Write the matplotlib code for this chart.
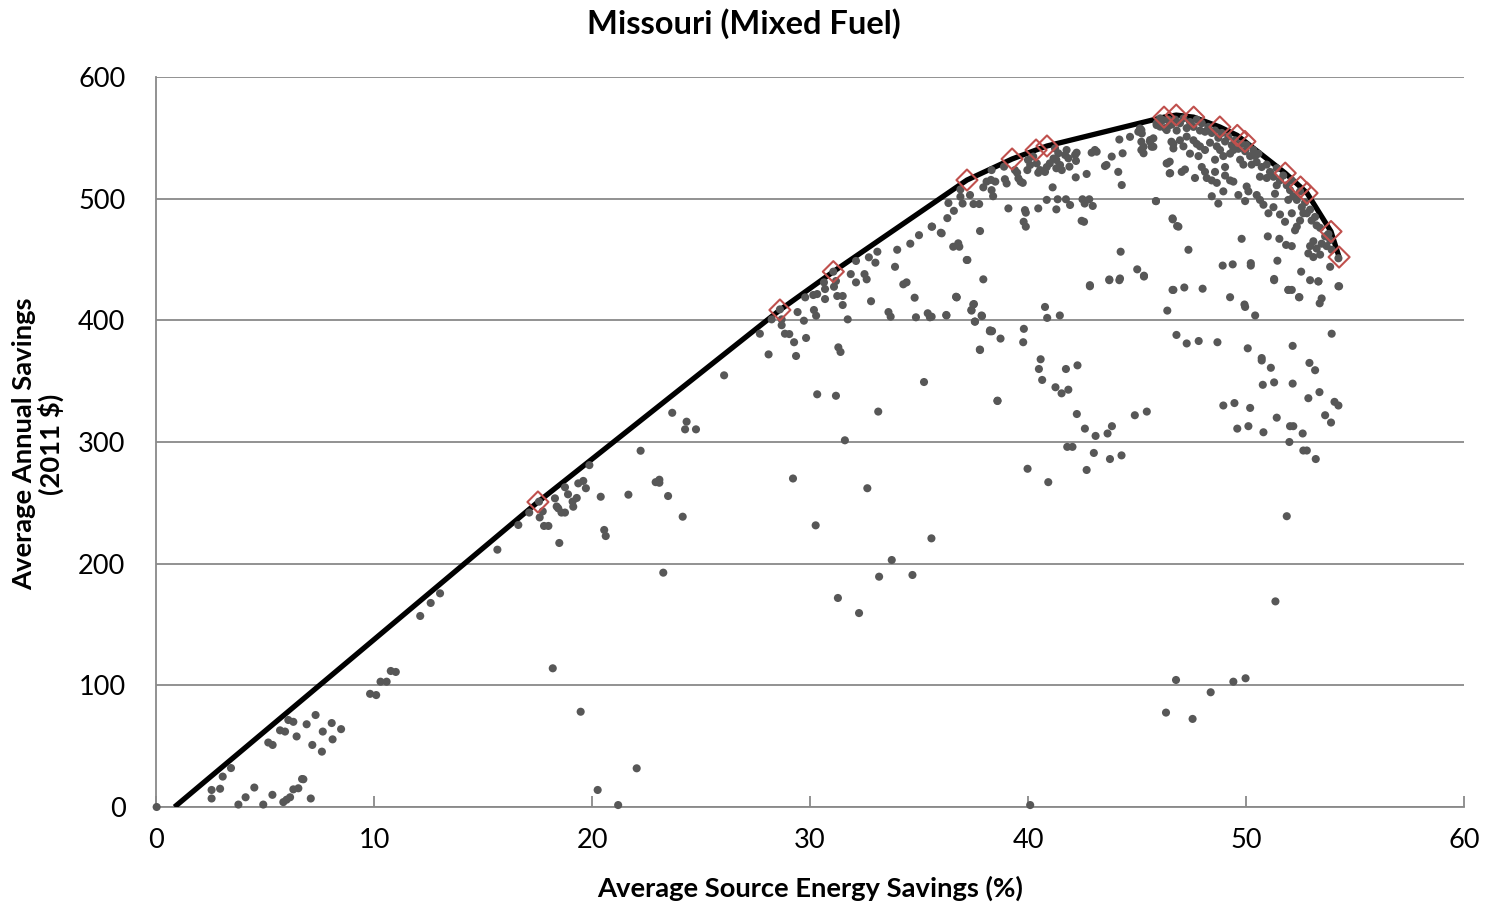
import matplotlib
matplotlib.use('Agg')
import matplotlib.pyplot as plt

plt.rcParams['font.family'] = ['Lato', 'DejaVu Sans']

# ---------------- data: (source energy savings %, annual savings $) ----------------
# frontier (least-cost curve) start and optimal packages (red diamonds)
line_start = (0.85, 0)
optimal_x = [17.52, 28.62, 31.07, 37.2, 39.27, 40.37, 40.87, 46.24, 46.8, 47.6,
             48.8, 49.6, 49.95, 51.8, 52.5, 52.8, 53.9, 54.27]
optimal_y = [250.7, 408.5, 440.0, 515.3, 532.6, 540.0, 543.3, 567.0, 568.7, 567.0,
             558.9, 552.0, 547.0, 521.0, 509.6, 504.6, 473.0, 452.0]

# individual design points, grouped by region of the chart
pts_low = [
    (0.03, 0), (2.55, 14), (2.55, 7), (2.94, 15), (3.06, 25), (3.44, 32), (3.78, 2),
    (4.11, 8), (4.51, 16), (4.92, 2), (5.34, 10), (5.15, 53), (5.35, 51), (5.69, 63),
    (5.92, 62), (6.07, 71.5), (6.3, 70), (5.84, 4), (5.99, 6), (6.15, 8), (6.3, 14.5),
    (6.53, 15.4), (6.76, 22.8), (6.7, 23), (6.45, 58), (6.91, 68), (7.32, 75.6),
    (7.1, 7), (7.17, 51), (7.61, 45.5), (7.65, 62), (8.06, 69), (8.1, 55.6), (8.49, 64),
    (9.82, 93), (10.1, 92), (10.3, 103), (10.58, 103), (10.77, 111.8), (11.0, 111),
    (12.12, 157), (12.6, 167.7), (13.03, 175.6), (15.66, 211.5),
]

pts_20 = [
    (16.62, 231.8), (17.12, 242), (17.57, 251), (17.74, 243), (17.6, 238), (17.8, 231),
    (18.0, 231), (18.3, 253.7), (18.38, 247), (18.45, 245.5), (18.6, 242), (18.76, 242),
    (18.76, 262.8), (18.9, 257), (19.14, 246.8), (19.11, 251), (19.3, 254), (19.37, 266),
    (19.6, 268), (19.72, 262), (19.88, 281), (18.5, 217), (20.4, 255), (20.56, 227.7),
    (20.63, 222.7), (21.67, 256.7), (22.23, 292.8), (22.92, 267), (23.09, 269),
    (23.09, 266.5), (23.49, 255.6), (24.16, 238.6), (23.27, 192.6), (23.68, 324),
    (24.34, 316.7), (24.27, 310.4), (24.77, 310.4), (18.2, 114), (19.48, 78.3),
    (22.05, 31.8), (20.26, 14), (21.2, 1.6), (26.06, 354.8),
]

pts_30 = [
    (27.7, 389), (28.1, 372), (28.24, 400.8), (28.7, 400.8), (28.7, 396), (28.62, 409),
    (28.85, 389), (29.05, 388.7), (29.27, 382), (29.36, 370.7), (29.43, 406.8),
    (29.72, 399.7), (29.82, 385.5), (29.78, 418.9), (30.15, 420.8), (30.33, 421.6),
    (30.18, 408.5), (30.28, 403.8), (30.69, 417.5), (30.69, 425.7), (30.64, 431.2),
    (31.07, 440), (31.19, 432.3), (31.1, 427.6), (31.25, 420), (31.5, 420), (31.5, 412.6),
    (31.73, 400.8), (31.3, 377.8), (31.4, 374), (30.33, 339.2), (31.19, 338),
    (31.87, 438), (32.11, 431.2), (32.11, 448.8), (32.5, 438), (32.6, 433.7),
    (32.7, 451.8), (33.0, 447.4), (33.09, 456.4), (32.8, 415.7), (33.9, 444),
    (34.28, 429.6), (34.43, 431.2), (33.6, 406.8), (33.7, 403), (34.8, 418.6),
    (34.86, 402.5), (35.4, 405.8), (35.5, 402.5), (36.25, 404.4), (36.73, 418.9),
    (37.19, 449.6), (37.95, 433.7), (37.52, 413.4), (37.4, 408.5), (37.89, 403.5),
    (37.57, 398.9), (38.26, 391.8), (38.35, 391.2), (37.8, 375.6), (38.6, 333.7),
    (35.23, 349.3), (33.13, 325), (31.6, 301.4), (29.22, 270), (32.63, 262),
    (30.26, 231.5), (35.57, 220.8), (33.75, 203), (33.17, 189.3), (34.7, 190.7),
    (31.28, 171.8), (32.25, 159.4),
    (34.0, 458), (34.6, 463), (35.0, 470), (35.6, 477), (36.0, 472), (36.3, 484),
    (36.6, 490), (37.0, 496),
]

pts_40 = [
    (35.58, 477), (36.04, 471.5), (36.57, 460.5), (36.8, 463.3), (36.85, 460.5),
    (37.22, 449.6), (37.8, 473.4), (36.7, 419.4), (36.35, 496.4), (36.9, 501.6),
    (36.9, 507.6), (37.34, 503), (37.5, 495.6), (37.76, 495.6), (37.95, 509.3),
    (38.1, 514), (38.3, 515.4), (38.5, 514), (38.33, 507), (38.4, 502), (38.33, 523.5),
    (38.9, 526.3), (39.02, 512.5), (38.94, 516), (39.1, 492), (39.4, 523.5),
    (39.5, 521.3), (39.56, 516.7), (39.66, 514), (39.76, 513), (39.86, 490.6),
    (39.9, 488.5), (39.8, 481), (39.9, 477), (40.0, 531.8), (40.1, 527.7),
    (39.97, 523.5), (40.24, 534.6), (40.4, 529), (40.47, 521.3), (40.55, 523.5),
    (40.47, 492), (40.86, 499), (40.78, 522), (40.86, 526), (41.0, 529), (41.17, 533),
    (41.24, 541.3), (41.3, 531.8), (41.3, 525), (41.47, 527.7), (41.55, 523.5),
    (41.39, 537.3), (41.13, 509.3), (41.3, 491.2), (41.36, 499.5), (41.7, 535.9),
    (41.77, 540), (41.85, 533.2), (41.9, 526.3), (41.74, 499.5), (41.93, 494.8),
    (42.16, 536), (42.2, 531), (42.23, 537.8), (42.19, 517.5), (42.5, 499.5),
    (42.6, 496), (42.81, 499.5), (42.97, 494), (42.46, 481.8), (42.57, 481),
    (42.69, 520.3), (42.92, 537.8), (43.07, 540), (43.15, 538.6), (43.6, 527.7),
    (43.53, 526.8), (43.84, 534.6), (44.14, 522), (44.19, 548.6), (44.3, 511.2),
    (44.34, 537.3), (44.68, 550.8), (45.06, 555), (45.14, 557.7), (45.22, 553.6),
    (45.2, 546.8), (45.3, 542.7), (45.3, 537.3), (45.6, 546.8), (45.67, 542.7),
    (45.75, 549.6), (45.87, 498), (44.25, 456.4), (45.01, 441.9), (45.32, 436.7),
    (43.73, 433.6), (44.22, 434.4), (42.84, 428.9), (46.63, 483.8), (46.84, 477.5),
    (46.63, 425), (46.5, 520.8), (46.39, 529), (46.5, 530.4), (46.58, 546.8),
    (46.67, 541.3), (45.9, 560.5), (46.06, 559.2), (46.2, 564.6), (46.36, 556.4),
    (46.5, 560.5),
]

pts_peak = [
    (45.2, 556.4), (45.2, 540), (45.6, 548.2), (45.75, 542.7),
    (45.9, 562), (46.06, 566), (46.29, 558), (46.44, 565), (46.59, 561), (46.75, 565),
    (46.82, 556), (46.97, 562), (47.13, 566), (47.28, 558), (47.43, 563), (47.59, 559),
    (47.74, 565), (47.89, 556), (47.97, 562), (48.12, 555), (48.27, 559), (48.43, 554),
    (48.58, 556), (48.73, 550), (48.89, 554), (49.04, 547), (49.19, 551), (49.35, 544),
    (49.5, 548), (49.65, 541), (49.8, 545), (49.96, 539), (50.03, 544), (50.19, 535),
    (50.34, 540), (50.49, 530), (50.72, 526), (50.95, 528), (51.1, 522), (51.26, 518),
    (51.41, 525), (51.56, 515), (51.71, 519), (51.87, 511), (52.02, 507), (52.1, 515),
    (52.17, 502), (52.33, 499), (52.48, 506), (52.56, 493), (52.71, 497), (52.79, 488),
    (52.94, 491), (53.01, 482), (53.17, 485), (53.24, 478), (53.4, 476), (53.09, 465),
    (52.94, 461), (53.24, 459), (53.47, 463), (53.63, 469), (53.78, 471), (53.7, 461),
    (53.93, 458), (52.86, 455), (53.09, 452), (53.4, 454), (53.86, 466), (54.24, 451),
    (46.36, 529), (46.52, 521), (47.05, 522), (47.2, 524), (47.43, 537), (47.66, 517),
    (47.82, 535), (47.97, 526), (48.12, 522), (48.2, 517), (48.43, 515), (48.58, 532),
    (48.58, 522), (48.66, 513), (49.04, 526), (49.04, 519), (49.27, 515), (49.42, 514),
    (48.96, 506), (48.43, 502), (48.73, 496), (49.65, 503), (49.96, 498), (50.03, 510),
    (50.11, 506), (50.49, 503), (50.64, 499), (50.8, 495), (51.03, 488), (51.26, 493),
    (51.33, 504), (51.41, 511), (51.56, 487), (51.79, 481), (51.94, 499), (52.1, 488),
    (52.33, 477), (52.25, 474), (52.48, 482), (52.63, 488), (50.57, 537), (50.42, 535),
    (50.26, 528), (50.64, 518), (50.95, 517), (49.73, 532), (49.88, 528), (49.27, 537),
    (49.42, 540), (48.81, 540), (48.35, 546), (48.66, 543), (48.96, 535), (47.59, 548),
    (47.74, 545), (47.28, 551), (46.97, 548), (46.67, 545), (47.13, 543), (47.89, 543),
    (48.12, 540),
    (45.87, 498), (46.64, 483), (46.9, 477), (47.36, 458), (48.93, 445), (49.39, 446),
    (50.22, 447), (50.22, 445), (49.8, 467), (51.0, 469), (51.53, 467), (51.84, 462),
    (52.1, 461), (51.44, 449), (51.29, 434), (52.53, 440), (52.94, 433), (53.32, 432),
    (53.86, 444), (54.27, 428), (46.67, 425), (47.17, 427), (48.01, 426), (49.27, 419),
    (51.94, 425), (52.1, 425), (52.45, 419), (53.47, 418), (45.32, 436),
]

pts_mid = [
    (35.58, 403), (36.26, 404), (36.72, 419), (37.49, 413), (37.41, 408), (37.87, 404),
    (37.56, 399), (38.25, 391), (38.33, 391), (38.74, 385), (37.79, 376), (39.81, 393),
    (39.78, 382), (40.78, 411), (40.88, 402), (41.46, 404), (42.84, 428), (43.73, 433),
    (44.19, 433), (46.39, 408), (46.81, 388), (40.58, 368), (40.5, 360), (40.65, 351),
    (41.26, 345), (41.54, 340), (41.85, 343), (41.74, 360), (42.27, 363), (38.6, 334),
    (42.24, 323), (42.61, 311), (43.1, 305), (43.65, 307), (43.85, 313), (44.9, 322),
    (45.45, 325), (41.8, 296), (42.04, 296), (43.02, 291), (43.76, 286), (44.29, 289),
    (42.69, 277), (39.98, 278), (40.93, 267),
    (49.96, 411), (49.93, 413), (50.42, 404), (51.29, 433), (51.95, 425), (52.43, 419),
    (53.32, 432), (53.38, 414), (54.24, 428), (47.28, 381), (47.83, 383), (48.69, 382),
    (50.08, 377), (50.72, 369), (50.72, 367), (51.14, 361), (52.14, 379), (52.91, 365),
    (53.17, 359), (53.93, 389), (50.77, 347), (51.29, 349), (52.14, 348), (52.86, 336),
    (53.37, 341), (54.06, 333), (54.24, 330), (48.96, 330), (49.47, 332), (50.19, 328),
    (51.41, 320), (49.6, 311), (50.11, 313), (50.8, 308), (52.02, 313), (52.17, 313),
    (52.6, 307), (51.99, 300), (52.63, 293), (52.79, 293), (53.2, 286), (53.63, 322),
    (53.9, 316), (51.87, 239), (51.35, 169),
    (46.79, 104.4), (46.33, 77.6), (47.55, 72.4), (48.38, 94.3), (49.42, 103),
    (49.98, 105.8), (40.1, 1.6),
]

x_ticks = [0, 10, 20, 30, 40, 50, 60]
y_ticks = [0, 100, 200, 300, 400, 500, 600]

# ---------------- plot ----------------
fig = plt.figure(figsize=(14.88, 9.08), dpi=100)
ax = fig.add_axes([156 / 1488, 1 - 807 / 908, 1308 / 1488, 730 / 908])

grid_col = '#898989'

all_pts = pts_low + pts_20 + pts_30 + pts_40 + pts_peak + pts_mid
xs = [p[0] for p in all_pts]
ys = [p[1] for p in all_pts]

line_x = [line_start[0]] + optimal_x
line_y = [line_start[1]] + optimal_y
ax.plot(line_x, line_y, color='black', lw=3.8, solid_capstyle='butt', zorder=3)
ax.scatter(xs, ys, s=34, color='#575757', edgecolors='none', zorder=4, clip_on=False)
ax.scatter(optimal_x, optimal_y, marker='D', s=115, facecolors='none',
           edgecolors='#C0504D', linewidths=1.5, zorder=5, clip_on=False)

ax.set_xlim(0, 60)
ax.set_ylim(0, 600)
ax.set_xticks(x_ticks)
ax.set_yticks(y_ticks)
ax.yaxis.grid(True, color=grid_col, lw=1.3)
ax.set_axisbelow(True)

for side in ['top', 'right']:
    ax.spines[side].set_visible(False)
for side in ['left', 'bottom']:
    ax.spines[side].set_color(grid_col)
    ax.spines[side].set_linewidth(1.3)

ax.tick_params(axis='x', direction='in', length=8, width=1.3, color=grid_col,
               labelsize=19.5, pad=15)
ax.tick_params(axis='y', length=0, labelsize=19.5, pad=22)

fig.text(810 / 1488, 1 - 888 / 908, 'Average Source Energy Savings (%)',
         fontsize=19.7, fontweight='bold', ha='center', va='center')
fig.text(38 / 1488, 1 - 444 / 908, 'Average Annual Savings\n(2011 $)',
         fontsize=19.7, fontweight='bold', ha='center', va='center',
         rotation=90, linespacing=1.1, multialignment='center')
fig.text(744 / 1488, 1 - 24 / 908, 'Missouri (Mixed Fuel)', fontsize=23.5,
         fontweight='bold', ha='center', va='center')

fig.savefig('out.png', dpi=100)
